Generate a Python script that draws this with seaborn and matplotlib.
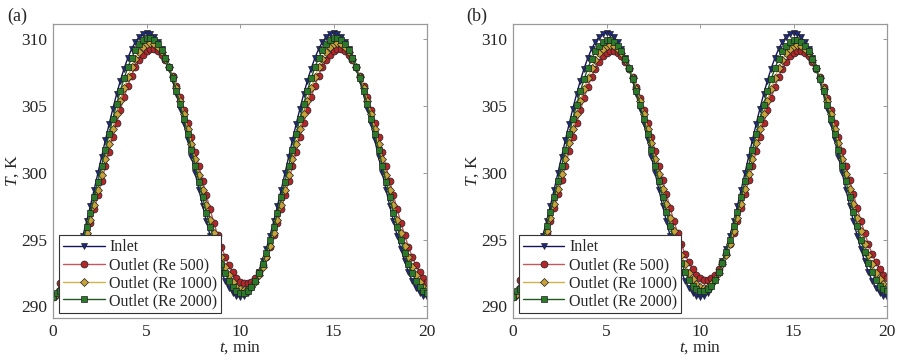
import numpy as np
import pandas as pd
import matplotlib.pyplot as plt
import seaborn as sns

# --- sampling grid (min) ---
t_min = np.linspace(0, 20, 101)

# --- inlet temperature, K (same in both panels) ---
inlet = [290.70, 290.78, 291.01, 291.40, 291.92, 292.59, 293.38, 294.29, 295.30, 296.38,
         297.54, 298.75, 299.98, 301.22, 302.46, 303.66, 304.82, 305.90, 306.91, 307.82,
         308.61, 309.28, 309.80, 310.19, 310.42, 310.50,
         310.42, 310.19, 309.80, 309.28, 308.61, 307.82, 306.91, 305.90, 304.82, 303.66,
         302.46, 301.22, 299.98, 298.75, 297.54, 296.38, 295.30, 294.29, 293.38, 292.59,
         291.92, 291.40, 291.01, 290.78,
         290.70,
         290.78, 291.01, 291.40, 291.92, 292.59, 293.38, 294.29, 295.30, 296.38, 297.54,
         298.75, 299.98, 301.22, 302.46, 303.66, 304.82, 305.90, 306.91, 307.82, 308.61,
         309.28, 309.80, 310.19, 310.42, 310.50,
         310.42, 310.19, 309.80, 309.28, 308.61, 307.82, 306.91, 305.90, 304.82, 303.66,
         302.46, 301.22, 299.98, 298.75, 297.54, 296.38, 295.30, 294.29, 293.38, 292.59,
         291.92, 291.40, 291.01, 290.78,
         290.70]

# --- panel (a) outlets ---
out500_a = [290.70, 290.90,
            291.72, 291.86, 292.13, 292.54, 293.07, 293.72, 294.48, 295.33, 296.26, 297.26,
            298.31, 299.40, 300.50, 301.60, 302.69, 303.74, 304.74, 305.67, 306.52, 307.28,
            307.93, 308.46, 308.87, 309.14, 309.28,
            309.28, 309.14, 308.87, 308.46, 307.93, 307.28, 306.52, 305.67, 304.74, 303.74,
            302.69, 301.60, 300.50, 299.40, 298.31, 297.26, 296.26, 295.33, 294.48, 293.72,
            293.07, 292.54, 292.13, 291.86, 291.72,
            291.72, 291.86, 292.13, 292.54, 293.07, 293.72, 294.48, 295.33, 296.26, 297.26,
            298.31, 299.40, 300.50, 301.60, 302.69, 303.74, 304.74, 305.67, 306.52, 307.28,
            307.93, 308.46, 308.87, 309.14, 309.28,
            309.28, 309.14, 308.87, 308.46, 307.93, 307.28, 306.52, 305.67, 304.74, 303.74,
            302.69, 301.60, 300.50, 299.40, 298.31, 297.26, 296.26, 295.33, 294.48, 293.72,
            293.07, 292.54, 292.13, 291.86]

out1000_a = [290.70, 290.90,
             291.27, 291.49, 291.85, 292.34, 292.97, 293.71, 294.55, 295.49, 296.51, 297.59,
             298.72, 299.87, 301.03, 302.18, 303.31, 304.39, 305.41, 306.35, 307.19, 307.93,
             308.56, 309.05, 309.41, 309.63, 309.70,
             309.63, 309.41, 309.05, 308.56, 307.93, 307.19, 306.35, 305.41, 304.39, 303.31,
             302.18, 301.03, 299.87, 298.72, 297.59, 296.51, 295.49, 294.55, 293.71, 292.97,
             292.34, 291.85, 291.49, 291.27, 291.20,
             291.27, 291.49, 291.85, 292.34, 292.97, 293.71, 294.55, 295.49, 296.51, 297.59,
             298.72, 299.87, 301.03, 302.18, 303.31, 304.39, 305.41, 306.35, 307.19, 307.93,
             308.56, 309.05, 309.41, 309.63, 309.70,
             309.63, 309.41, 309.05, 308.56, 307.93, 307.19, 306.35, 305.41, 304.39, 303.31,
             302.18, 301.03, 299.87, 298.72, 297.59, 296.51, 295.49, 294.55, 293.71, 292.97,
             292.34, 291.85, 291.49, 291.27]

out2000_a = [290.70,
             291.02, 291.17, 291.47, 291.91, 292.49, 293.19, 294.01, 294.94, 295.95, 297.03,
             298.18, 299.35, 300.55, 301.75, 302.92, 304.07, 305.15, 306.16, 307.09, 307.91,
             308.61, 309.19, 309.63, 309.93, 310.08,
             310.08, 309.93, 309.63, 309.19, 308.61, 307.91, 307.09, 306.16, 305.15, 304.07,
             302.92, 301.75, 300.55, 299.35, 298.18, 297.03, 295.95, 294.94, 294.01, 293.19,
             292.49, 291.91, 291.47, 291.17, 291.02,
             291.02, 291.17, 291.47, 291.91, 292.49, 293.19, 294.01, 294.94, 295.95, 297.03,
             298.18, 299.35, 300.55, 301.75, 302.92, 304.07, 305.15, 306.16, 307.09, 307.91,
             308.61, 309.19, 309.63, 309.93, 310.08,
             310.08, 309.93, 309.63, 309.19, 308.61, 307.91, 307.09, 306.16, 305.15, 304.07,
             302.92, 301.75, 300.55, 299.35, 298.18, 297.03, 295.95, 294.94, 294.01, 293.19,
             292.49, 291.91, 291.47, 291.17, 291.02]

# --- panel (b) outlets ---
out500_b = [290.70, 290.90,
            291.97, 292.10, 292.37, 292.77, 293.29, 293.92, 294.66, 295.50, 296.41, 297.38,
            298.41, 299.47, 300.55, 301.63, 302.69, 303.72, 304.69, 305.61, 306.44, 307.18,
            307.81, 308.33, 308.73, 309.00, 309.13,
            309.13, 309.00, 308.73, 308.33, 307.81, 307.18, 306.44, 305.61, 304.69, 303.72,
            302.69, 301.63, 300.55, 299.47, 298.41, 297.38, 296.41, 295.50, 294.66, 293.92,
            293.29, 292.77, 292.37, 292.10, 291.97,
            291.97, 292.10, 292.37, 292.77, 293.29, 293.92, 294.66, 295.50, 296.41, 297.38,
            298.41, 299.47, 300.55, 301.63, 302.69, 303.72, 304.69, 305.61, 306.44, 307.18,
            307.81, 308.33, 308.73, 309.00, 309.13,
            309.13, 309.00, 308.73, 308.33, 307.81, 307.18, 306.44, 305.61, 304.69, 303.72,
            302.69, 301.63, 300.55, 299.47, 298.41, 297.38, 296.41, 295.50, 294.66, 293.92,
            293.29, 292.77, 292.37, 292.10]

out1000_b = [290.70, 290.90,
             291.47, 291.69, 292.04, 292.53, 293.14, 293.87, 294.70, 295.62, 296.63, 297.69,
             298.80, 299.93, 301.07, 302.21, 303.31, 304.38, 305.38, 306.30, 307.13, 307.86,
             308.47, 308.96, 309.31, 309.53, 309.60,
             309.53, 309.31, 308.96, 308.47, 307.86, 307.13, 306.30, 305.38, 304.38, 303.31,
             302.21, 301.07, 299.93, 298.80, 297.69, 296.63, 295.62, 294.70, 293.87, 293.14,
             292.53, 292.04, 291.69, 291.47, 291.40,
             291.47, 291.69, 292.04, 292.53, 293.14, 293.87, 294.70, 295.62, 296.63, 297.69,
             298.80, 299.93, 301.07, 302.21, 303.31, 304.38, 305.38, 306.30, 307.13, 307.86,
             308.47, 308.96, 309.31, 309.53, 309.60,
             309.53, 309.31, 308.96, 308.47, 307.86, 307.13, 306.30, 305.38, 304.38, 303.31,
             302.21, 301.07, 299.93, 298.80, 297.69, 296.63, 295.62, 294.70, 293.87, 293.14,
             292.53, 292.04, 291.69, 291.47]

out2000_b = [290.70,
             291.12, 291.27, 291.56, 292.00, 292.57, 293.27, 294.08, 295.00, 296.00, 297.07,
             298.20, 299.37, 300.55, 301.73, 302.90, 304.03, 305.10, 306.11, 307.02, 307.83,
             308.53, 309.10, 309.54, 309.83, 309.98,
             309.98, 309.83, 309.54, 309.10, 308.53, 307.83, 307.02, 306.11, 305.10, 304.03,
             302.90, 301.73, 300.55, 299.37, 298.20, 297.07, 296.00, 295.00, 294.08, 293.27,
             292.57, 292.00, 291.56, 291.27, 291.12,
             291.12, 291.27, 291.56, 292.00, 292.57, 293.27, 294.08, 295.00, 296.00, 297.07,
             298.20, 299.37, 300.55, 301.73, 302.90, 304.03, 305.10, 306.11, 307.02, 307.83,
             308.53, 309.10, 309.54, 309.83, 309.98,
             309.98, 309.83, 309.54, 309.10, 308.53, 307.83, 307.02, 306.11, 305.10, 304.03,
             302.90, 301.73, 300.55, 299.37, 298.20, 297.07, 296.00, 295.00, 294.08, 293.27,
             292.57, 292.00, 291.56, 291.27, 291.12]

labels = ['Inlet', 'Outlet (Re 500)', 'Outlet (Re 1000)', 'Outlet (Re 2000)']
x_ticks = [0, 5, 10, 15, 20]
y_ticks = [290, 295, 300, 305, 310]

# line colour, marker, marker face
styles = [
    ('#14145e', 'v', '#1c2a80'),
    ('#c05a5a', 'o', '#b3262a'),
    ('#d2b04a', 'D', '#c9a23a'),
    ('#1e5a1e', 's', '#2a7a2a'),
]
msizes = [5.0, 5.0, 3.6, 4.4]

sns.set_style('white')
plt.rcParams['font.family'] = ['Liberation Serif', 'DejaVu Serif']
plt.rcParams['mathtext.fontset'] = 'custom'
plt.rcParams['mathtext.it'] = 'Liberation Serif:italic'
plt.rcParams['mathtext.rm'] = 'Liberation Serif'

fig = plt.figure(figsize=(9.17, 3.58), dpi=100)
ax_a = fig.add_axes([0.0578, 0.1117, 0.408, 0.821])
ax_b = fig.add_axes([0.5594, 0.1117, 0.408, 0.821])

panels = [
    (ax_a, '(a)', [inlet, out500_a, out1000_a, out2000_a], 0.008),
    (ax_b, '(b)', [inlet, out500_b, out1000_b, out2000_b], 0.508),
]

for ax, tag, series, tag_x in panels:
    for vals, lab, (lc, mk, mf), ms in zip(series, labels, styles, msizes):
        sns.lineplot(x=t_min, y=vals, ax=ax, label=lab, color=lc, linewidth=1.0,
                     marker=mk, markersize=ms, markerfacecolor=mf,
                     markeredgecolor='#202020', markeredgewidth=0.5)
    ax.set_xlim(0, 20)
    ax.set_ylim(289.13, 311.15)
    ax.set_xticks(x_ticks)
    ax.set_yticks(y_ticks)
    ax.tick_params(direction='in', length=3, width=0.6, color='#888888',
                   top=True, right=True, labelsize=12.5, pad=4)
    for sp in ax.spines.values():
        sp.set_color('#999999')
        sp.set_linewidth(0.9)
    ax.set_xlabel(r'$t$, min', fontsize=12.5, labelpad=0)
    ax.set_ylabel(r'$T$, K', fontsize=12.5, labelpad=0)
    leg = ax.legend(loc='lower left', bbox_to_anchor=(0.016, 0.017), fontsize=11.5,
                    frameon=True, fancybox=False, framealpha=1.0, handlelength=2.6,
                    handletextpad=0.3, borderpad=0.25, labelspacing=0.12, borderaxespad=0.0)
    leg.get_frame().set_edgecolor('#333333')
    leg.get_frame().set_linewidth(0.8)
    fig.text(tag_x, 0.955, tag, fontsize=13, ha='left', va='center')

plt.savefig('out.png', dpi=100)
plt.close()
